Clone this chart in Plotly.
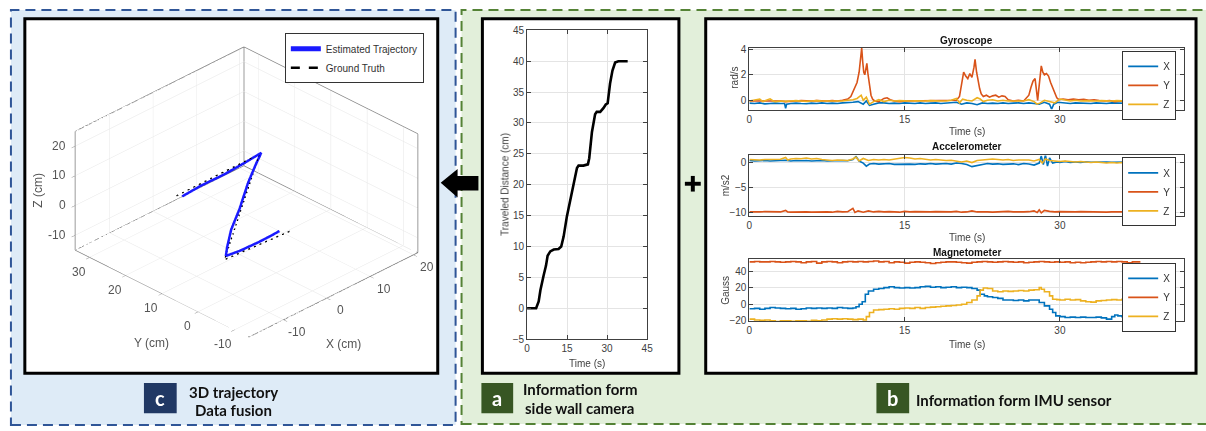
import plotly.graph_objects as go

W, H = 1206, 431
def px(x): return x / W
def py(y): return 1 - y / H

# ---------------- data ----------------
# 3D trajectory (cm)
gt_x = [-17.8, 1.5, -6.6, 9.3]
gt_y = [6.3, 6.4, 6.4, 6.4]
gt_z = [20.0, 20.0, -9.7, -11.2]

est_x = [-16.7, -12.0, -7.0, -2.0, 1.8, 0.6, -1.1, -3.2, -4.9, -6.0, -6.2, -3.0, 1.0, 4.0, 6.1]
est_y = [6.0, 6.3, 6.1, 6.4, 6.3, 6.4, 6.5, 6.3, 6.6, 6.4, 6.5, 6.4, 6.3, 6.5, 6.4]
est_z = [19.2, 19.3, 19.4, 19.5, 20.2, 17.0, 12.0, 5.0, -1.0, -6.0, -8.8, -9.3, -9.4, -9.6, -9.3]

x3_range = [-18, 21]
y3_range = [-14, 34]
z3_range = [-15, 25]
x3_ticks = [-10, 0, 10, 20]
y3_ticks = [-10, 0, 10, 20, 30]
z3_ticks = [-10, 0, 10, 20]

# side wall camera: traveled distance
cam_t = [0, 3.4, 4.35, 5.0, 6.2, 7.1, 7.7, 8.7, 10.0, 11.8, 12.8, 13.7, 14.9, 16.2, 17.4, 18.7,
         19.3, 21.1, 22.8, 23.3, 24.3, 25.5, 26.1, 27.4, 28.6, 29.5, 30.2, 31.1, 32.0, 33.0, 34.2, 37.7]
cam_d = [0, 0, 1.1, 2.9, 5.3, 6.9, 8.5, 9.2, 9.5, 9.6, 10.0, 11.6, 14.8, 17.4, 20.1, 22.7,
         23.1, 23.1, 23.3, 24.3, 28.5, 31.4, 31.8, 31.8, 32.4, 33.0, 33.2, 36.4, 38.5, 39.8, 40.0, 40.0]

# IMU: gyroscope (rad/s)
gyro_x = [(0,-0.22),(0.5,-0.25),(1,-0.2),(1.5,-0.28),(2,-0.25),(2.5,-0.22),(3,-0.25),(3.4,-0.25),(3.5,-0.62),(3.6,-0.3),
          (4,-0.25),(4.5,-0.22),(5,-0.25),(5.5,-0.27),(6,-0.22),(6.5,-0.25),(7,-0.2),(7.5,-0.25),(8,-0.22),(8.5,-0.25),
          (9,-0.2),(9.5,-0.2),(10,-0.15),(10.5,-0.1),(11,-0.3),(11.3,-0.05),(11.6,-0.4),(12,-0.3),(12.5,-0.2),(13,-0.2),
          (13.5,-0.25),(14,-0.22),(14.5,-0.25),(15,-0.2),(15.5,-0.22),(16,-0.25),(16.5,-0.2),(17,-0.25),(17.5,-0.22),(18,-0.2),
          (18.5,-0.25),(19,-0.22),(19.5,-0.2),(20,-0.15),(20.5,-0.3),(21,-0.2),(21.5,-0.25),(22,-0.35),(22.5,-0.2),(23,-0.25),
          (23.5,-0.22),(24,-0.25),(24.5,-0.2),(25,-0.25),(25.5,-0.22),(26,-0.2),(26.5,-0.25),(27,-0.2),(27.5,-0.25),(28,-0.3),
          (28.5,-0.15),(29,-0.3),(29.2,-0.7),(29.4,-0.3),(29.8,-0.15),(30.5,-0.2),(31,-0.25),(31.5,-0.2),(32,-0.22),(32.5,-0.2),
          (33,-0.25),(33.5,-0.2),(34,-0.22),(34.5,-0.25),(35,-0.2),(35.5,-0.22),(36,-0.25),(36.5,-0.22),(37,-0.25),(37.7,-0.25)]
gyro_y = [(0,-0.05),(0.5,-0.05),(1,0.0),(1.5,-0.05),(2,-0.02),(2.5,-0.05),(3,-0.05),(3.5,-0.1),(4,-0.05),(4.5,-0.05),
          (5,-0.02),(5.5,-0.05),(6,-0.05),(6.5,-0.02),(7,-0.05),(7.5,-0.05),(8,-0.02),(8.5,-0.05),(9,0.0),(9.5,0.1),
          (9.8,0.3),(10.0,0.7),(10.2,1.0),(10.4,1.4),(10.6,2.2),(10.75,3.2),(10.85,4.1),(10.95,3.0),(11.05,2.2),(11.15,2.0),
          (11.25,2.6),(11.35,2.9),(11.45,2.1),(11.6,1.0),(11.75,0.4),(11.9,0.1),(12.1,-0.05),(12.5,-0.1),(13,0.15),(13.3,0.2),
          (13.6,0.05),(14,-0.05),(14.5,-0.1),(15,-0.05),(15.5,-0.05),(16,-0.02),(16.5,-0.05),(17,-0.05),(17.5,-0.02),(18,-0.05),
          (18.5,-0.05),(19,-0.02),(19.5,-0.05),(20,0.0),(20.3,0.3),(20.5,1.2),(20.7,2.2),(20.9,1.9),(21.1,1.7),(21.3,2.1),
          (21.5,1.8),(21.7,2.6),(21.8,3.2),(21.95,2.2),(22.1,1.5),(22.25,0.9),(22.4,0.5),(22.6,0.3),(22.9,0.4),(23.2,0.25),
          (23.5,0.35),(23.8,0.4),(24.1,0.25),(24.4,0.35),(24.7,0.3),(25,0.05),(25.5,-0.05),(26,0.0),(26.5,-0.05),(26.8,0.2),
          (27.0,0.4),(27.2,1.0),(27.4,1.5),(27.6,1.7),(27.75,0.6),(27.85,0.0),(27.95,0.8),(28.1,2.0),(28.2,2.7),(28.35,2.2),
          (28.5,2.0),(28.7,2.1),(28.9,1.9),(29.1,1.4),(29.3,1.0),(29.5,0.5),(29.7,0.2),(29.9,0.05),(30.3,0.1),(30.8,0.05),
          (31.3,0.1),(31.8,0.05),(32.3,0.08),(32.8,0.0),(33.3,0.05),(33.8,-0.02),(34.3,-0.05),(34.8,-0.02),(35.3,-0.1),(35.8,-0.05),
          (36.3,-0.1),(36.8,-0.05),(37.3,-0.08),(37.7,-0.05)]
gyro_z = [(0,-0.05),(0.5,0.05),(1,0.1),(1.3,-0.1),(1.6,0.0),(2,0.12),(2.3,-0.05),(2.5,-0.1),(3,-0.05),(3.5,-0.08),
          (4,-0.05),(4.5,-0.02),(5,-0.05),(5.5,-0.08),(6,-0.05),(6.5,-0.02),(7,-0.05),(7.5,-0.05),(8,-0.08),(8.5,-0.05),
          (9,-0.05),(9.5,0.0),(10,0.05),(10.4,0.15),(10.8,0.4),(11.0,0.0),(11.3,0.25),(11.6,-0.3),(12.0,-0.1),(12.5,0.05),
          (13,-0.1),(13.5,0.0),(14,-0.05),(14.5,-0.02),(15,-0.05),(15.5,-0.05),(16,-0.03),(16.5,-0.05),(17,-0.05),(17.5,-0.02),
          (18,-0.05),(18.5,-0.05),(19,-0.05),(19.5,0.0),(20,0.15),(20.3,-0.2),(20.6,0.1),(21,0.0),(21.5,-0.05),(22.0,0.2),
          (22.3,0.1),(22.6,-0.1),(23,0.0),(23.5,0.05),(24,-0.05),(24.5,0.0),(25,-0.05),(25.5,-0.05),(26,0.0),(26.5,-0.05),
          (27,0.05),(27.5,-0.1),(27.8,-0.3),(28.1,-0.2),(28.5,0.0),(29,-0.1),(29.5,-0.2),(30,0.1),(30.5,0.0),(31,-0.05),
          (31.5,0.0),(32,-0.05),(32.5,-0.02),(33,-0.05),(33.5,-0.05),(34,-0.02),(34.5,-0.05),(35,-0.05),(35.5,-0.02),(36,-0.05),
          (36.5,-0.05),(37,-0.05),(37.7,-0.05)]

# IMU: accelerometer (m/s2)
acc_x = [(0,0.3),(0.5,0.2),(1,0.25),(1.5,0.3),(2,0.2),(2.5,0.25),(3,0.3),(3.5,0.35),(4,0.2),(4.5,0.3),
         (5,0.25),(5.5,0.3),(6,0.2),(6.5,0.25),(7,0.3),(7.5,0.2),(8,0.25),(8.5,0.2),(9,0.3),(9.5,0.25),
         (10,0.5),(10.3,1.1),(10.6,0.2),(11,-0.2),(11.3,-0.8),(11.6,-0.4),(12,-0.3),(12.5,-0.4),(13,-0.35),(13.5,-0.3),
         (14,-0.45),(14.5,-0.4),(15,-0.35),(15.5,-0.4),(16,-0.45),(16.5,-0.35),(17,-0.4),(17.5,-0.3),(18,-0.4),(18.5,-0.35),
         (19,-0.3),(19.5,-0.4),(20,-0.2),(20.5,-0.3),(21,-0.5),(21.5,-0.9),(22,-0.7),(22.5,-0.4),(23,-0.3),(23.5,-0.4),
         (24,-0.35),(24.5,-0.45),(25,-0.4),(25.5,-0.35),(26,-0.5),(26.5,-0.3),(27,-0.4),(27.5,-0.6),(28,-0.2),(28.2,1.2),
         (28.4,-0.5),(28.6,1.4),(28.8,-0.8),(29.0,0.8),(29.3,-0.2),(29.7,0.0),(30,-0.1),(30.5,0.1),(31,-0.1),(31.5,0.0),
         (32,-0.1),(32.5,0.05),(33,-0.05),(33.5,0.0),(34,-0.1),(34.5,0.0),(35,-0.05),(35.5,0.0),(36,-0.05),(36.5,0.0),
         (37,-0.05),(37.7,0.0)]
acc_y = [(0,-9.8),(0.5,-9.85),(1,-9.8),(1.5,-9.75),(2,-9.8),(2.5,-9.85),(3,-9.8),(3.5,-9.5),(3.7,-9.8),(4,-9.85),
         (4.5,-9.8),(5,-9.75),(5.5,-9.8),(6,-9.85),(6.5,-9.8),(7,-9.75),(7.5,-9.8),(8,-9.85),(8.5,-9.7),(9,-9.8),
         (9.5,-9.75),(10.0,-9.1),(10.2,-9.9),(10.5,-9.6),(11,-9.85),(11.5,-9.6),(12,-9.8),(12.5,-9.7),(13,-9.8),(13.5,-9.75),
         (14,-9.8),(14.5,-9.85),(15,-9.7),(15.5,-9.8),(16,-9.75),(16.5,-9.8),(17,-9.85),(17.5,-9.8),(18,-9.75),(18.5,-9.8),
         (19,-9.75),(19.5,-9.8),(20,-9.7),(20.5,-9.85),(21,-9.8),(21.5,-9.6),(22,-9.8),(22.5,-9.75),(23,-9.8),(23.5,-9.85),
         (24,-9.75),(24.5,-9.8),(25,-9.7),(25.5,-9.8),(26,-9.85),(26.5,-9.8),(27,-9.75),(27.5,-9.6),(27.8,-9.9),(28.0,-9.4),
         (28.2,-10.0),(28.5,-9.5),(29,-9.7),(29.5,-9.8),(30,-9.75),(30.5,-9.8),(31,-9.85),(31.5,-9.8),(32,-9.75),(32.5,-9.8),
         (33,-9.8),(33.5,-9.75),(34,-9.8),(34.5,-9.85),(35,-9.8),(35.5,-9.75),(36,-9.8),(36.5,-9.8),(37,-9.75),(37.7,-9.8)]
acc_z = [(0,0.5),(0.5,0.45),(1,0.4),(1.5,0.5),(2,0.55),(2.5,0.6),(3,0.55),(3.5,0.9),(3.7,0.4),(4,0.6),
         (4.5,0.7),(5,0.65),(5.5,0.8),(6,0.6),(6.5,0.7),(7,0.5),(7.5,0.4),(8,0.3),(8.5,0.4),(9,0.35),
         (9.5,0.3),(10,0.6),(10.3,1.0),(10.6,0.2),(11,0.7),(11.5,0.3),(12,0.5),(12.5,0.4),(13,0.5),(13.5,0.4),
         (14,0.6),(14.5,0.7),(15,0.9),(15.5,0.8),(16,0.6),(16.5,0.7),(17,0.5),(17.5,0.4),(18,0.5),(18.5,0.4),
         (19,0.3),(19.5,0.35),(20,0.2),(20.5,0.0),(21,0.2),(21.5,-0.1),(22,0.3),(22.5,0.4),(23,0.5),(23.5,0.6),
         (24,0.5),(24.5,0.4),(25,0.5),(25.5,0.3),(26,0.4),(26.5,0.35),(27,0.4),(27.5,0.2),(28,0.5),(28.3,-0.2),
         (28.6,0.6),(29,0.3),(29.5,0.2),(30,0.1),(30.5,0.2),(31,0.1),(31.5,0.0),(32,0.1),(32.5,0.0),(33,-0.1),
         (33.5,0.0),(34,-0.1),(34.5,-0.2),(35,-0.1),(35.5,-0.2),(36,-0.1),(36.5,-0.2),(37,-0.1),(37.7,-0.1)]

# IMU: magnetometer (Gauss)
mag_x = [(0,-5.5),(0.5,-5),(1,-6),(1.5,-5),(2,-4),(2.5,-4.5),(3,-5),(3.5,-5.5),(4,-5),(4.5,-6),
         (5,-5.5),(5.5,-4.5),(6,-5),(6.5,-4.5),(7,-5),(7.5,-4.5),(8,-5),(8.5,-4),(9,-4.5),(9.5,-5),
         (10,-4.5),(10.3,-3),(10.6,0),(10.9,3),(11.2,12),(11.5,16),(12,18),(12.5,19),(13,20),(13.5,21),
         (14,20),(14.5,19.5),(15,20),(15.5,19.5),(16,20),(16.5,21),(17,21.5),(17.5,20.5),(18,21),(18.5,20),
         (19,20.5),(19.5,21),(20,20),(20.5,20.5),(21,20),(21.5,19),(22,17),(22.3,12),(22.7,10),(23,9),
         (23.5,8),(24,7),(24.5,5),(25,5),(25.5,4.5),(26,5),(26.5,4),(27,5),(27.5,5),(28,2),
         (28.5,-2),(29,-6),(29.3,-10),(29.6,-14),(30,-15),(30.5,-16),(31,-15.5),(31.5,-16),(32,-15.5),(32.5,-16),
         (33,-16),(33.5,-15.5),(34,-16.5),(34.5,-18),(35,-15),(35.3,-13),(35.6,-14),(36,-15),(36.5,-16),(37,-15),(37.7,-15)]
mag_y = [(0,51),(0.5,51.5),(1,51),(1.5,51),(2,51.5),(2.5,51),(3,50.5),(3.5,51),(4,51.5),(4.5,51),
         (5,50),(5.5,51),(6,51.5),(6.5,49.5),(7,51),(7.5,51.5),(8,51),(8.5,50),(9,51),(9.5,51.5),
         (10,51),(10.5,51.5),(11,51),(11.5,51.5),(12,52),(12.5,51),(13,51.5),(13.5,50),(14,51),(14.5,50.5),
         (15,49.5),(15.5,50.5),(16,51),(16.5,50.5),(17,50),(17.5,49),(18,50),(18.5,50.5),(19,51),(19.5,51),
         (20,50.5),(20.5,50),(21,49.5),(21.5,50.5),(22,51),(22.5,51.5),(23,51),(23.5,50.5),(24,51),(24.5,51.5),
         (25,51),(25.5,50.5),(26,51),(26.5,50),(27,50.5),(27.5,51),(28,51.5),(28.5,51),(29,50.5),(29.5,51),
         (30,50.5),(30.5,51),(31,50),(31.5,50.5),(32,50),(32.5,50.5),(33,51),(33.5,51.5),(34,51),(34.5,51.5),
         (35,51),(35.5,51.5),(36,51),(36.5,50),(37,51),(37.7,50)]
mag_z = [(0,-18),(0.5,-19),(1,-19.5),(1.5,-19),(2,-20),(2.5,-21),(3,-20),(3.5,-20),(4,-20.5),(4.5,-20),
         (5,-20),(5.5,-20.5),(6,-19.5),(6.5,-20),(7,-19),(7.5,-18),(8,-17.5),(8.5,-18),(9,-17.5),(9.5,-18),
         (10,-18.5),(10.5,-18),(11,-19),(11.3,-15),(11.6,-10),(12,-7),(12.5,-6.5),(13,-6),(13.5,-5.5),(14,-6),
         (14.5,-5),(15,-4.5),(15.5,-5),(16,-4),(16.5,-5),(17,-4),(17.5,-3.5),(18,-3),(18.5,-2.5),(19,-2),
         (19.5,-1.5),(20,-1),(20.5,0),(21,2),(21.5,5),(22,10),(22.3,17),(22.6,19.5),(23,19),(23.5,16),
         (24,15),(24.5,16),(25,15.5),(25.5,16),(26,16.5),(26.5,16),(27,17),(27.5,17.5),(28,20),(28.2,18),
         (28.5,15),(29,10),(29.3,6),(29.7,5.5),(30,5),(30.5,6),(31,5),(31.5,5.5),(32,4),(32.5,3),
         (33,2.5),(33.5,4),(34,4.5),(34.5,5),(35,5.5),(35.5,5),(36,6),(36.5,6.5),(37,6),(37.7,6)]

axis_names = ["X", "Y", "Z"]
imu_colors = ["#0072BD", "#D95319", "#EDB120"]

# ---------------- figure ----------------
fig = go.Figure()

TXT = "#404040"
TICKFONT = dict(family="Liberation Sans, Arial", size=10, color=TXT)
F3 = dict(family="Liberation Sans, Arial", size=12, color="#555555")

fig.add_trace(go.Scatter3d(x=est_x, y=est_y, z=est_z, mode="lines", name="Estimated Trajectory",
                           line=dict(color="#1a1aff", width=5), legend="legend", hoverinfo="skip"))
fig.add_trace(go.Scatter3d(x=gt_x, y=gt_y, z=gt_z, mode="lines", name="Ground Truth",
                           line=dict(color="black", width=2.5, dash="dash"), legend="legend", hoverinfo="skip"))
x0, x1 = x3_range; y0, y1 = y3_range; z0, z1 = z3_range
edges = [((x0, y0, z0), (x1, y0, z0)), ((x0, y0, z0), (x0, y1, z0)),
         ((x1, y0, z0), (x1, y1, z0)), ((x0, y1, z0), (x1, y1, z0)),
         ((x1, y0, z0), (x1, y0, z1)), ((x1, y1, z0), (x1, y1, z1)),
         ((x0, y1, z0), (x0, y1, z1)), ((x1, y0, z1), (x1, y1, z1)),
         ((x0, y1, z1), (x1, y1, z1))]
ex, ey, ez = [], [], []
for a, b in edges:
    ex += [a[0], b[0], None]; ey += [a[1], b[1], None]; ez += [a[2], b[2], None]
fig.add_trace(go.Scatter3d(x=ex, y=ey, z=ez, mode="lines", line=dict(color="#7a7a7a", width=1.5),
                           showlegend=False, hoverinfo="skip"))

fig.add_trace(go.Scatter(x=cam_t, y=cam_d, mode="lines", line=dict(color="black", width=2.6),
                         showlegend=False, xaxis="x", yaxis="y", hoverinfo="skip"))

sensors = [(gyro_x, gyro_y, gyro_z), (acc_x, acc_y, acc_z), (mag_x, mag_y, mag_z)]
for k, series in enumerate(sensors):
    ax = str(k + 2)
    for j, s in enumerate(series):
        t = [p[0] for p in s]; v = [p[1] for p in s]
        fig.add_trace(go.Scatter(x=t, y=v, mode="lines", name=axis_names[j],
                                 line=dict(color=imu_colors[j], width=1.6, shape="hv" if k == 2 else "linear"),
                                 xaxis="x" + ax, yaxis="y" + ax, legend="legend" + ax, hoverinfo="skip"))

def cart_axis(domain, rng, tickvals, **kw):
    d = dict(domain=domain, range=rng, tickvals=tickvals, showline=True, linecolor=TXT, linewidth=1,
             mirror="ticks", ticks="inside", ticklen=4, tickcolor=TXT, showgrid=True, gridcolor="#e4e4e4",
             gridwidth=1, zeroline=False, tickfont=TICKFONT, fixedrange=True)
    d.update(kw)
    return d

layout = dict(
    width=W, height=H, margin=dict(l=0, r=0, t=0, b=0), paper_bgcolor="white", plot_bgcolor="white",
    showlegend=True,
)
layout["xaxis"] = cart_axis([px(528), px(649)], [0, 45], [0, 15, 30, 45], anchor="y")
layout["yaxis"] = cart_axis([py(342), py(26)], [-5, 45], list(range(-5, 50, 5)), anchor="x")
imu_ydom = [(44, 107), (154, 216), (260, 324)]
imu_yr = [[-0.72, 4.1], [-10.6, 1.3], [-20.8, 54.5]]
imu_yt = [[0, 2, 4], [-10, -5, 0], [-20, 0, 20, 40]]
for k in range(3):
    ax = str(k + 2)
    layout["xaxis" + ax] = cart_axis([px(752), px(1190)], [0, 42], [0, 15, 30], anchor="y" + ax)
    layout["yaxis" + ax] = cart_axis([py(imu_ydom[k][1]), py(imu_ydom[k][0])], imu_yr[k], imu_yt[k], anchor="x" + ax)

axis3 = dict(showgrid=True, gridcolor="#e6e6e6", gridwidth=1, showline=False, showbackground=False,
             zeroline=False, showspikes=False, ticks="outside", ticklen=5, tickcolor="#8a8a8a",
             showticklabels=False, title=dict(text=""))

# horizontal 3D tick labels and titles as scene annotations (data coordinates)
ye = y0 + 0.05
xe = x0 + 0.05
s_anns = []
for v in x3_ticks:
    s_anns.append(dict(x=v, y=ye, z=z0 + 0.05, text=str(v), showarrow=False, font=F3, xshift=14, yshift=-13))
for v in y3_ticks:
    s_anns.append(dict(x=xe, y=v, z=z0 + 0.05, text=str(v), showarrow=False, font=F3, xshift=-11, yshift=-15))
for v in z3_ticks:
    s_anns.append(dict(x=xe, y=y1 - 0.05, z=v, text=str(v), showarrow=False, font=F3, xanchor="right", xshift=-7))
s_anns.append(dict(x=(x0 + x1) / 2, y=ye, z=z0 + 0.05, text="X (cm)", showarrow=False, font=F3, xshift=11, yshift=-50))
s_anns.append(dict(x=xe, y=(y0 + y1) / 2, z=z0 + 0.05, text="Y (cm)", showarrow=False, font=F3, xshift=-11, yshift=-50))
s_anns.append(dict(x=xe, y=y1 - 0.05, z=(z0 + z1) / 2, text="Z (cm)", showarrow=False, font=F3, xshift=-37,
                   textangle=-90))

zoom3 = 1.38
layout["scene"] = dict(
    domain=dict(x=[px(22), px(468)], y=[py(368), py(14)]),
    xaxis=dict(axis3, range=x3_range, tickvals=x3_ticks),
    yaxis=dict(axis3, range=y3_range, tickvals=y3_ticks),
    zaxis=dict(axis3, range=z3_range, tickvals=z3_ticks),
    aspectmode="manual", aspectratio=dict(x=1.0 * zoom3, y=1.03 * zoom3, z=0.575 * zoom3),
    camera=dict(projection=dict(type="orthographic"), up=dict(x=0, y=0, z=1), center=dict(x=0, y=0, z=0),
                eye=dict(x=-1.2248, y=-1.2248, z=1.0)),
    bgcolor="rgba(0,0,0,0)",
    annotations=s_anns,
)

def legend_box(xr, yt, size=10):
    return dict(x=px(xr), y=py(yt), xanchor="right", yanchor="top", bgcolor="white", bordercolor="#333333",
                borderwidth=1, font=dict(family="Liberation Sans, Arial", size=size, color="#333333"),
                tracegroupgap=0, itemwidth=30)
layout["legend"] = legend_box(424, 29)
layout["legend2"] = legend_box(1182, 47)
layout["legend3"] = legend_box(1182, 156)
layout["legend4"] = legend_box(1182, 264)

shapes = []
shapes.append(dict(type="rect", xref="paper", yref="paper", x0=px(8), x1=px(456), y0=py(430), y1=py(5),
                   fillcolor="#DEEBF7", line=dict(color="#2F5597", width=2, dash="10px,6px"), layer="below"))
shapes.append(dict(type="rect", xref="paper", yref="paper", x0=px(462), x1=px(1215), y0=py(429), y1=py(5),
                   fillcolor="#E2EFDA", line=dict(color="#548235", width=2, dash="10px,6px"), layer="below"))
for (a, b) in [(22, 438), (483, 681), (708, 1202)]:
    shapes.append(dict(type="rect", xref="paper", yref="paper", x0=px(a), x1=px(b), y0=py(377), y1=py(14),
                       fillcolor="white", line=dict(color="black", width=3), layer="below"))
for (a, b, col) in [(142, 175, "#203864"), (482, 514, "#375623"), (880, 913, "#375623")]:
    shapes.append(dict(type="rect", xref="paper", yref="paper", x0=px(a), x1=px(b), y0=py(418), y1=py(387),
                       fillcolor=col, line=dict(width=0)))
arrow_pts = [(441, 182), (458, 168), (458, 175), (479, 175), (479, 190), (458, 190), (458, 197)]
path = "M " + " L ".join(f"{px(a):.5f},{py(b):.5f}" for a, b in arrow_pts) + " Z"
shapes.append(dict(type="path", xref="paper", yref="paper", path=path, fillcolor="black", line=dict(width=0)))
shapes.append(dict(type="rect", xref="paper", yref="paper", x0=px(687), x1=px(703), y0=py(185), y1=py(181),
                   fillcolor="black", line=dict(width=0)))
shapes.append(dict(type="rect", xref="paper", yref="paper", x0=px(693), x1=px(697), y0=py(191), y1=py(175),
                   fillcolor="black", line=dict(width=0)))
layout["shapes"] = shapes

CAP = dict(family="Lato, Open Sans, sans-serif", size=15, color="#111111")
def ann(x, y, text, font, xanchor="center", angle=0):
    return dict(x=px(x), y=py(y), xref="paper", yref="paper", text=text, showarrow=False, font=font,
                xanchor=xanchor, yanchor="middle", textangle=angle)
ANT = dict(family="Liberation Sans, Arial", size=10, color=TXT)
TIT = dict(family="Liberation Sans, Arial", size=10, color="#111111")
anns = [
    ann(158.5, 402, "<b>c</b>", dict(family="Lato, sans-serif", size=20, color="white")),
    ann(498, 402, "<b>a</b>", dict(family="Lato, sans-serif", size=20, color="white")),
    ann(896.5, 402, "<b>b</b>", dict(family="Lato, sans-serif", size=20, color="white")),
    ann(232, 396, "<b>3D trajectory</b>", CAP),
    ann(232, 415, "<b>Data fusion</b>", CAP),
    ann(581, 393, "<b>Information form</b>", CAP),
    ann(581, 413, "<b>side wall camera</b>", CAP),
    ann(918, 404, "<b>Information form IMU sensor</b>", CAP, xanchor="left"),
    ann(506, 184, "Traveled Distance (cm)", ANT, angle=-90),
    ann(588, 367, "Time (s)", ANT),
    ann(971, 36, "<b>Gyroscope</b>", TIT),
    ann(971, 145, "<b>Accelerometer</b>", TIT),
    ann(971, 253, "<b>Magnetometer</b>", TIT),
    ann(737, 75, "rad/s", ANT, angle=-90),
    ann(728, 185, "m/s2", ANT, angle=-90),
    ann(728, 292, "Gauss", ANT, angle=-90),
    ann(971, 129, "Time (s)", ANT),
    ann(971, 238, "Time (s)", ANT),
    ann(971, 348, "Time (s)", ANT),
]
layout["annotations"] = anns
fig.update_layout(**layout)
fig.write_html("out.html")
